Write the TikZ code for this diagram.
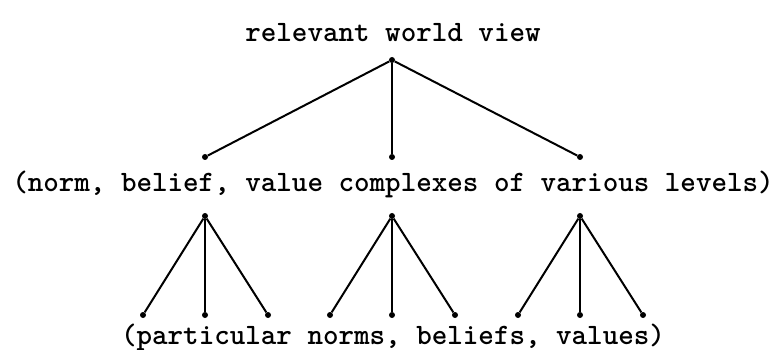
\documentclass[tikz,border=0pt]{standalone}
\usepackage{fontspec}
\usetikzlibrary{positioning}

\begin{document}
\begin{tikzpicture}[
        x=1pt, y=-1pt,
        font=\ttfamily\bfseries\fontsize{29.6}{32}\selectfont,
        % Styles
        dot/.style={circle, fill=black, inner sep=0pt, minimum size=6pt},
        branch/.style={line width=2pt},
        stem/.style={line width=1.3pt},
        level/.style={inner sep=0pt, anchor=center}
    ]
    \useasboundingbox (0,0) rectangle (777,350);

    % ================= TOP =================
    \node[level] (view) at (393,33) {relevant world view};
    \node[dot] (top) at (392,60) {};

    % ================= MIDDLE =================
    \node[dot] (m1) at (205,157) {};
    \node[dot] (m2) at (392,157) {};
    \node[dot] (m3) at (580,157) {};
    \draw[branch] (top) -- (m1);
    \draw[stem] (top) -- (m2);
    \draw[branch] (top) -- (m3);

    \node[level] (complexes) at (393,184) {(norm, belief, value complexes of various levels)};

    % ================= BOTTOM =================
    \foreach \i/\x in {1/205, 2/392, 3/580} {
        \node[dot] (s\i) at (\x,216) {};
        \node[dot] (b\i a) at (\x-62,315) {};
        \node[dot] (b\i b) at (\x,315) {};
        \node[dot] (b\i c) at (\x+63,315) {};
        \draw[branch] (s\i) -- (b\i a);
        \draw[stem] (s\i) -- (b\i b);
        \draw[branch] (s\i) -- (b\i c);
    }

    \node[level] (particular) at (393,337) {(particular norms, beliefs, values)};

\end{tikzpicture}
\end{document}
